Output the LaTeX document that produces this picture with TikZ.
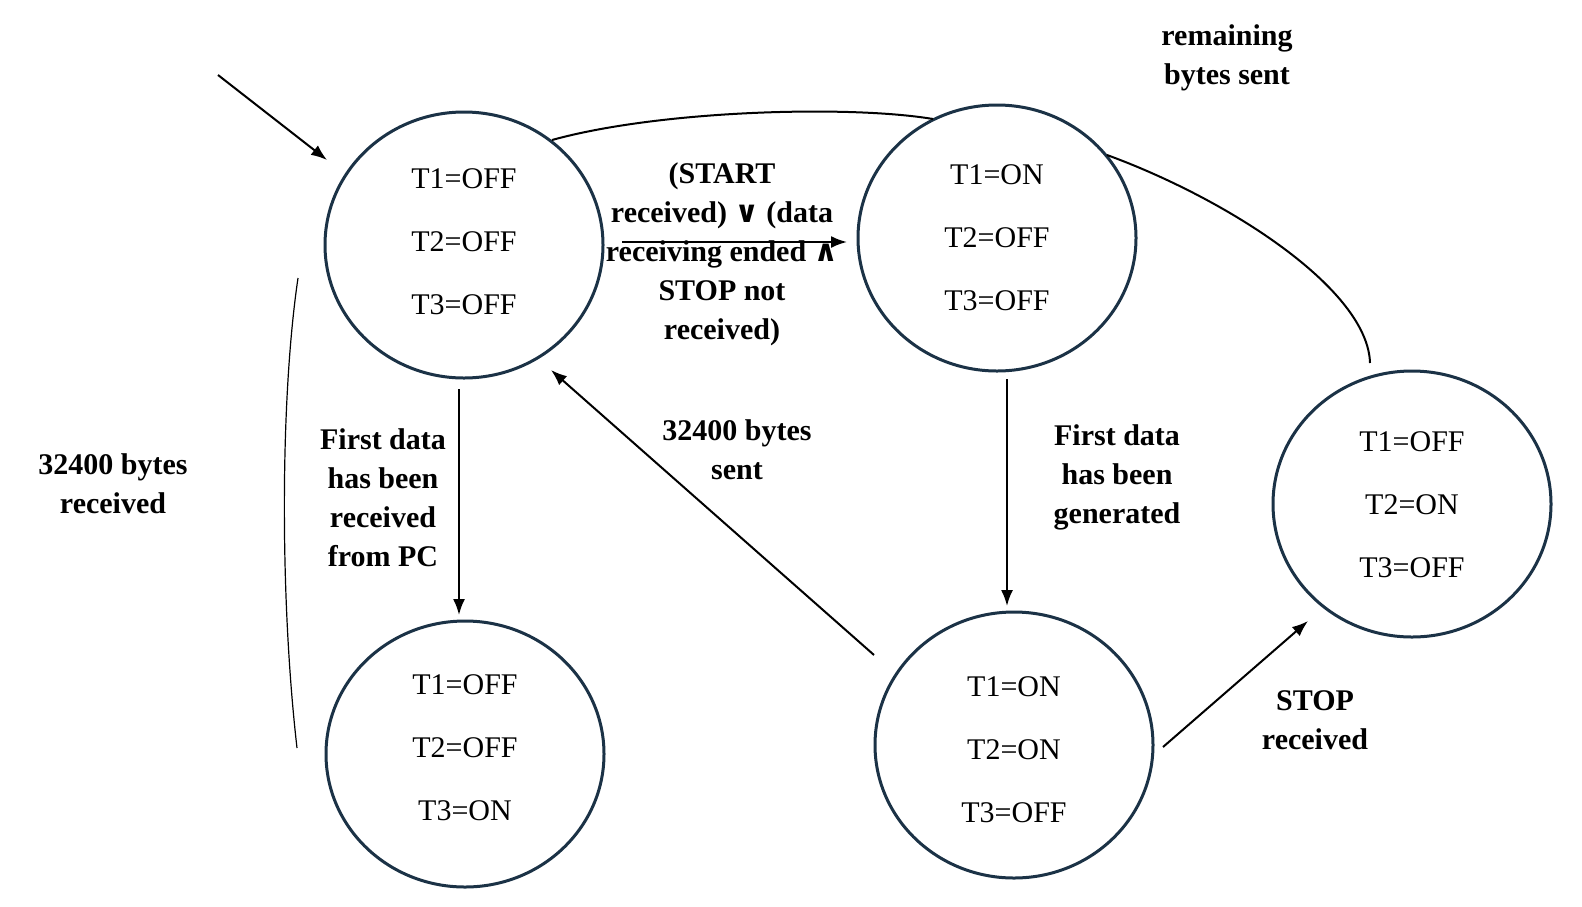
\documentclass[tikz,border=0pt]{standalone}
\usepackage{fontspec}
\setmainfont{Liberation Serif}
\newfontfamily\symfont{DejaVu Sans}
\usetikzlibrary{shapes.geometric,arrows.meta,calc}
\definecolor{navy}{HTML}{1B3246}
\tikzset{
  state/.style={ellipse, draw=navy, line width=3pt, minimum width=278pt, minimum height=266pt,
    inner sep=0pt},
  stext/.style={align=center, inner sep=0pt, font=\fontsize{30}{63}\selectfont},
  lbl/.style={align=center, font=\bfseries\fontsize{30}{39}\selectfont},
  arr/.style={-{Latex[length=16pt,width=12pt]}, line width=2pt},
  link/.style={line width=2pt},
  thinlink/.style={line width=1.2pt, draw=black}
}
\begin{document}
\begin{tikzpicture}[x=1pt,y=-1pt]
\useasboundingbox (0,0) rectangle (1582,906);
\fill[white] (0,0) rectangle (1582,906);

\node[state] (c1) at (464,245) {};
\node[state] (c2) at (997,238) {};
\node[state] (c3) at (465,754) {};
\node[state] (c4) at (1014,745) {};
\node[state] (c5) at (1412,504) {};

\node[stext] (t1) at ($(c1.center)+(0,-3)$) {T1=OFF\\T2=OFF\\T3=OFF};
\node[stext] (t2) at ($(c2.center)+(0,0)$) {T1=ON\\T2=OFF\\T3=OFF};
\node[stext] (t3) at ($(c3.center)+(0,-6)$) {T1=OFF\\T2=OFF\\T3=ON};
\node[stext] (t4) at ($(c4.center)+(0,5)$) {T1=ON\\T2=ON\\T3=OFF};
\node[stext] (t5) at ($(c5.center)+(0,1)$) {T1=OFF\\T2=ON\\T3=OFF};

\coordinate (init) at (218,75);
\draw[arr] (init) -- ($(c1.center)+(-137,-85)$);

\draw[arr] ($(c1.center)+(158,-3)$) -- ($(c2.center)+(-150,4)$);
\draw[arr] ($(c1.center)+(-5,144)$) -- ($(c3.center)+(-6,-139)$);
\draw[arr] ($(c4.center)+(-140,-90)$) -- ($(c1.center)+(87,125)$);
\draw[arr] ($(c2.center)+(10,141)$) -- ($(c4.center)+(-7,-139)$);
\draw[arr] ($(c4.center)+(149,2)$) -- ($(c5.center)+(-104,117)$);

\draw[link] ($(c1.center)+(88,-105)$) .. controls (660,110) and (850,105) .. ($(c2.center)+(-64,-119)$);
\draw[link] ($(c2.center)+(110,-83)$) .. controls (1230,200) and (1368,290) .. ($(c5.center)+(-42,-141)$);
\draw[thinlink] ($(c1.center)+(-166,33)$) .. controls (280,400) and (280,600) .. ($(c3.center)+(-168,-6)$);

\node[lbl] (l1) at (722,254) {(START\\received) {\symfont\bfseries ∨} (data\\receiving ended {\symfont\bfseries ∧}\\STOP not\\received)};
\node[lbl] (l2) at (1227,58) {remaining\\bytes sent};
\node[lbl] (l3) at (113,484) {32400 bytes\\received};
\node[lbl] (l4) at (383,498) {First data\\has been\\received\\from PC};
\node[lbl] (l5) at (737,450) {32400 bytes\\sent};
\node[lbl] (l6) at (1117,477) {First data\\has been\\generated};
\node[lbl] (l7) at (1315,720) {STOP\\received};
\end{tikzpicture}
\end{document}
